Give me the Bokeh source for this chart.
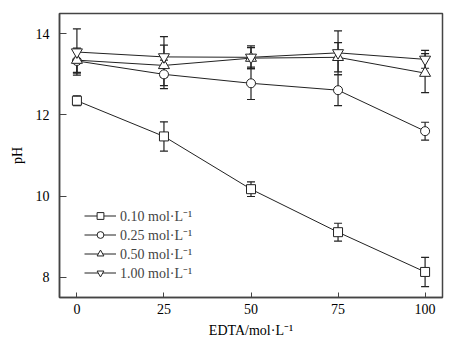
from bokeh.plotting import figure
from bokeh.models import ColumnDataSource, Whisker, TeeHead, Legend, LegendItem, FixedTicker
from bokeh.embed import file_html
from bokeh.resources import INLINE

edta = [0, 25, 50, 75, 100]
labels = ["0.10 mol·L⁻¹", "0.25 mol·L⁻¹", "0.50 mol·L⁻¹", "1.00 mol·L⁻¹"]
ph_010 = [12.35, 11.47, 10.17, 9.11, 8.13]
err_010 = [0.12, 0.36, 0.18, 0.22, 0.36]
ph_025 = [13.33, 13.00, 12.78, 12.61, 11.60]
err_025 = [0.30, 0.35, 0.40, 0.38, 0.22]
ph_050 = [13.35, 13.22, 13.40, 13.42, 13.03]
err_050 = [0.30, 0.50, 0.26, 0.36, 0.48]
ph_100 = [13.55, 13.43, 13.42, 13.53, 13.37]
err_100 = [0.57, 0.50, 0.28, 0.54, 0.22]

series = [(ph_010, err_010, "square"), (ph_025, err_025, "circle"),
          (ph_050, err_050, "triangle"), (ph_100, err_100, "inverted_triangle")]

FONT = "'Liberation Serif', 'Times New Roman', serif"
p = figure(width=460, height=340, output_backend="svg", toolbar_location=None,
           x_range=(-5, 105), y_range=(7.5, 14.5),
           min_border_left=59, min_border_right=18, min_border_top=13, min_border_bottom=42)
p.background_fill_color = "white"
p.border_fill_color = "white"
p.grid.visible = False
p.outline_line_color = "#444444"
p.outline_line_width = 1.5

for ax in (p.xaxis[0], p.yaxis[0]):
    ax.major_tick_out = 0
    ax.major_tick_in = 7
    ax.minor_tick_out = 0
    ax.minor_tick_in = 0
    ax.axis_line_color = "#444444"
    ax.axis_line_width = 1.5
    ax.major_tick_line_color = "#444444"
    ax.major_label_text_font = FONT
    ax.major_label_text_font_size = "14px"
    ax.major_label_text_color = "black"
    ax.axis_label_text_font = FONT
    ax.axis_label_text_font_size = "14px"
    ax.axis_label_text_font_style = "normal"
    ax.axis_label_text_color = "black"
p.xaxis[0].major_tick_in = 5
p.xaxis.ticker = FixedTicker(ticks=[0, 25, 50, 75, 100])
p.yaxis.ticker = FixedTicker(ticks=[8, 10, 12, 14])
p.xaxis.axis_label = "EDTA/mol·L⁻¹"
p.yaxis.axis_label = "pH"
p.xaxis.major_label_standoff = 6
p.yaxis.major_label_standoff = 10
p.xaxis.axis_label_standoff = 6
p.yaxis.axis_label_standoff = 8

items = []
for (vals, errs, mk), lab in zip(series, labels):
    src = ColumnDataSource(dict(x=edta, y=vals,
                                lo=[v - e for v, e in zip(vals, errs)],
                                hi=[v + e for v, e in zip(vals, errs)]))
    ln = p.line("x", "y", source=src, line_color="#222222", line_width=1)
    w = Whisker(source=src, base="x", upper="hi", lower="lo", line_color="#222222", line_width=1.2,
                upper_head=TeeHead(size=8, line_color="#222222", line_width=1.2),
                lower_head=TeeHead(size=8, line_color="#222222", line_width=1.2))
    p.add_layout(w)
    items.append([lab, ln, src, mk])

for it in items:
    lab, ln, src, mk = it
    sz = 9 if mk in ("square", "circle") else 11
    it[2] = p.scatter("x", "y", source=src, marker=mk, size=sz, fill_color="white",
                      line_color="#222222", line_width=1)

legend = Legend(items=[LegendItem(label=lab, renderers=[ln, sc]) for lab, ln, sc, mk in items],
                location=(25, 15), border_line_color=None, background_fill_alpha=0,
                label_text_font=FONT, label_text_font_size="14px", glyph_width=32,
                glyph_height=17, spacing=0, label_standoff=4, padding=4,
                label_height=16)
p.add_layout(legend, "center")

open("out.html", "w").write(file_html(p, INLINE))
